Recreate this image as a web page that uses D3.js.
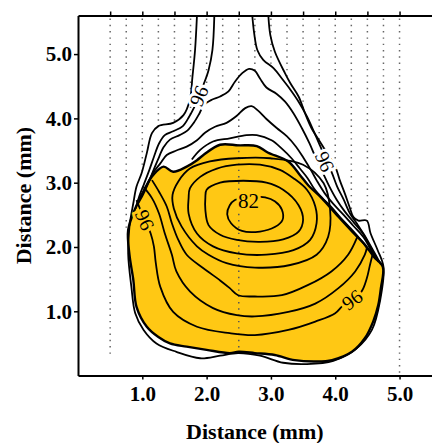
<!DOCTYPE html>
<html>
<head>
<meta charset="utf-8">
<script src="https://cdn.jsdelivr.net/npm/d3@7"></script>
<style>
body { margin: 0; background: #fff; }
text { font-family: "Liberation Serif", "Times New Roman", serif; }
</style>
</head>
<body>
<div id="chart"></div>
<script>
// axis ticks (mm)
var xTicks = [1, 2, 3, 4, 5]
var yTicks = [1, 2, 3, 4, 5]
var topTicks = [0.5, 1, 1.5, 2, 2.5, 3, 3.5, 4, 4.5, 5]

// dotted scan lines: x position and lowest visible y (mm)
var scanX = [0.5, 0.75, 1, 1.25, 1.5, 1.75, 2, 2.25, 2.5, 2.75, 3, 3.25, 3.5, 3.75, 4, 4.25, 4.5, 4.75, 5]
var scanEnd = [0.27, 2.28, 3.15, 3.88, 3.92, 4.0, 4.35, 4.37, 0.35, 4.74, 4.85, 4.62, 4.12, 3.66, 3.22, 2.52, 2.41, 1.75, 0]

// filled (yellow) region outline, [x, y] in mm
var yellowEdge = [[2.21,3.59],[2.50,3.58],[2.78,3.57],[2.95,3.47],[3.27,3.33],[3.45,3.12],[3.58,2.96],[3.79,2.76],[4.05,2.47],[4.31,2.19],[4.45,2.05],[4.60,1.85],[4.74,1.69],[4.71,1.36],[4.67,1.10],[4.59,0.84],[4.46,0.58],[4.26,0.37],[3.95,0.24],[3.69,0.22],[3.37,0.24],[3.06,0.32],[2.75,0.35],[2.50,0.37],[2.36,0.35],[2.00,0.40],[1.69,0.45],[1.43,0.50],[1.25,0.60],[1.07,0.76],[0.91,1.07],[0.86,1.49],[0.80,1.88],[0.78,2.26],[0.89,2.60],[1.04,2.91],[1.17,3.12],[1.33,3.25],[1.48,3.17],[1.69,3.25],[1.85,3.35],[1.95,3.43]]

// closed contours inside the yellow region
var ring82 = [[2.67,2.78],[2.91,2.77],[3.06,2.71],[3.17,2.58],[3.18,2.42],[3.06,2.31],[2.83,2.24],[2.55,2.25],[2.38,2.37],[2.32,2.51],[2.36,2.65],[2.44,2.73]]
var ring84 = [[2.00,2.89],[2.21,3.00],[2.57,3.03],[2.93,3.00],[3.19,2.89],[3.43,2.65],[3.50,2.42],[3.43,2.24],[3.19,2.12],[2.83,2.08],[2.47,2.11],[2.21,2.19],[2.03,2.34],[1.98,2.58],[1.98,2.76]]
var ring86 = [[1.74,2.91],[1.90,3.09],[2.16,3.22],[2.47,3.28],[2.83,3.28],[3.14,3.20],[3.35,3.07],[3.56,2.89],[3.69,2.63],[3.71,2.37],[3.61,2.11],[3.35,1.95],[2.93,1.88],[2.47,1.90],[2.10,2.01],[1.85,2.21],[1.72,2.52],[1.72,2.76]]
var ring88 = [[1.56,3.02],[1.74,3.22],[2.05,3.33],[2.47,3.38],[2.99,3.38],[3.50,3.28],[3.82,2.99],[3.92,2.58],[3.89,2.16],[3.71,1.88],[3.30,1.72],[2.75,1.68],[2.31,1.75],[2.03,1.88],[1.85,2.01],[1.61,2.32],[1.49,2.60],[1.47,2.81]]

// open contours inside the yellow region (edge to edge)
var line90 = [[1.15,3.04],[1.26,2.86],[1.38,2.63],[1.46,2.37],[1.56,2.11],[1.69,1.88],[1.95,1.67],[2.21,1.48],[2.36,1.36],[2.49,1.25],[2.75,1.23],[3.17,1.25],[3.58,1.41],[3.94,1.62],[4.20,1.88],[4.34,2.15]]
var line93 = [[1.02,2.93],[1.15,2.76],[1.26,2.52],[1.35,2.21],[1.46,1.88],[1.53,1.62],[1.74,1.31],[2.10,1.05],[2.47,0.94],[2.75,0.92],[3.27,0.99],[3.69,1.12],[4.05,1.36],[4.31,1.62],[4.46,1.88],[4.49,1.98]]
var line96 = [[0.91,2.73],[0.97,2.58],[1.04,2.42],[1.13,2.21],[1.18,2.01],[1.21,1.75],[1.28,1.38],[1.48,0.99],[1.85,0.76],[2.36,0.66],[2.75,0.63],[3.27,0.71],[3.69,0.84],[4.00,0.97],[4.13,1.10],[4.26,1.18],[4.41,1.31],[4.49,1.51],[4.54,1.72],[4.58,1.88]]

// contours outside the yellow region
var outerA = [[1.85,5.6],[1.82,5.06],[1.78,4.65],[1.74,4.29],[1.64,4.05],[1.48,3.93],[1.25,3.88],[1.15,3.77],[1.07,3.46],[0.99,3.15],[0.91,2.94],[0.86,2.68],[0.80,2.32],[0.78,1.90],[0.83,1.38],[0.89,0.97],[1.02,0.71],[1.22,0.50],[1.53,0.37],[1.90,0.27],[2.21,0.31],[2.49,0.35],[2.83,0.31],[3.19,0.20],[3.56,0.18],[3.97,0.23],[4.33,0.42],[4.57,0.71],[4.70,1.18],[4.75,1.69],[4.66,1.95],[4.55,2.21],[4.49,2.41],[4.36,2.41],[4.28,2.47],[4.22,2.63],[4.15,2.83],[4.07,3.04],[4.00,3.25],[3.89,3.43],[3.76,3.64],[3.63,3.85],[3.53,4.08],[3.43,4.34],[3.30,4.55],[3.22,4.70],[3.06,5.04],[2.99,5.30],[2.96,5.6]]
var outerBLeft = [[2.12,5.6],[2.09,5.06],[2.03,4.75],[1.95,4.52],[1.88,4.34],[1.81,4.18],[1.73,4.03],[1.63,3.88],[1.48,3.80],[1.35,3.74],[1.26,3.61],[1.18,3.40],[1.11,3.20],[1.03,2.99],[0.95,2.78],[0.90,2.60]]
var outerBRight = [[2.71,5.6],[2.74,5.32],[2.79,5.06],[2.88,4.91],[3.04,4.78],[3.17,4.62],[3.30,4.45],[3.43,4.26],[3.56,4.03],[3.67,3.79],[3.77,3.56],[3.86,3.35],[3.95,3.15],[4.03,2.94],[4.13,2.74],[4.23,2.52],[4.34,2.36],[4.45,2.19],[4.57,1.98],[4.71,1.73]]
var outerC = [[0.92,2.65],[1.01,2.81],[1.08,2.96],[1.16,3.16],[1.24,3.35],[1.33,3.55],[1.43,3.67],[1.58,3.74],[1.70,3.81],[1.80,3.93],[1.89,4.08],[1.96,4.21],[2.08,4.29],[2.21,4.34],[2.34,4.42],[2.44,4.57],[2.55,4.70],[2.66,4.77],[2.75,4.74],[2.83,4.62],[2.93,4.48],[3.09,4.38],[3.22,4.26],[3.35,4.08],[3.48,3.85],[3.60,3.61],[3.70,3.38],[3.81,3.15],[3.91,2.94],[4.02,2.74],[4.15,2.55],[4.29,2.38],[4.43,2.21],[4.53,2.03],[4.67,1.77]]
var outerD = [[0.93,2.71],[1.02,2.86],[1.10,3.03],[1.18,3.17],[1.28,3.30],[1.38,3.43],[1.53,3.50],[1.69,3.56],[1.85,3.66],[1.98,3.78],[2.13,3.87],[2.31,3.93],[2.47,4.04],[2.60,4.16],[2.70,4.19],[2.80,4.12],[2.93,3.99],[3.09,3.85],[3.25,3.72],[3.39,3.56],[3.51,3.38],[3.62,3.20],[3.72,3.02],[3.84,2.83],[3.97,2.67],[4.13,2.50],[4.28,2.33],[4.44,2.15],[4.62,1.82]]
var outerE = [[1.77,3.36],[1.90,3.51],[2.10,3.64],[2.36,3.69],[2.62,3.74],[2.78,3.74],[3.01,3.66],[3.17,3.53],[3.32,3.38],[3.45,3.22],[3.57,3.07],[3.67,2.91],[3.79,2.77],[3.93,2.63],[4.07,2.47],[4.22,2.31],[4.38,2.13],[4.52,1.95]]

// contour labels: text, position (mm), line they sit on
var labelText = ['82', '96', '96', '96', '96']
var labelX = [2.65, 1.04, 4.26, 1.88, 3.84]
var labelY = [2.72, 2.42, 1.18, 4.35, 3.33]
var labelLine = [null, line96, line96, outerBLeft, outerBRight]

var width = 432,
    height = 443,
    yellow = '#FFC814'

var svg = d3.select('#chart')
    .append('svg')
    .attr('width', width)
    .attr('height', height)

var x = d3.scaleLinear().domain([0, 5.5]).range([78, 431.7])
var y = d3.scaleLinear().domain([0, 5.6]).range([375.6, 15.5])

var openLine = d3.line()
    .x(d => x(d[0]))
    .y(d => y(d[1]))
    .curve(d3.curveCatmullRom.alpha(0.5))

var closedLine = d3.line()
    .x(d => x(d[0]))
    .y(d => y(d[1]))
    .curve(d3.curveCatmullRomClosed.alpha(0.5))

// dotted scan lines (2.5 mm one drawn later on top of the fill)
svg.append('g')
    .selectAll('line')
    .data(scanX.filter(d => d != 2.5))
    .enter().append('line')
    .attr('x1', d => x(d))
    .attr('x2', d => x(d))
    .attr('y1', y(5.6) + 3)
    .attr('y2', d => y(scanEnd[scanX.indexOf(d)]))
    .attr('stroke', '#666')
    .attr('stroke-width', 1.5)
    .attr('stroke-dasharray', '1.4,4.9')

// yellow region
svg.append('path')
    .attr('d', closedLine(yellowEdge))
    .attr('fill', yellow)

svg.append('line')
    .attr('x1', x(2.5))
    .attr('x2', x(2.5))
    .attr('y1', y(5.6) + 3)
    .attr('y2', y(scanEnd[scanX.indexOf(2.5)]))
    .attr('stroke', '#555')
    .attr('stroke-width', 1.5)
    .attr('stroke-dasharray', '1.4,4.9')

// contour lines
var contours = svg.append('g')
    .attr('fill', 'none')
    .attr('stroke', '#000')
    .attr('stroke-linejoin', 'round')

;[ring82, ring84, ring86, ring88].forEach(function (r) {
    contours.append('path').attr('d', closedLine(r)).attr('stroke-width', 1.8)
})
;[line90, line93, line96, outerA, outerBLeft, outerBRight, outerC, outerD, outerE].forEach(function (l) {
    contours.append('path').attr('d', openLine(l)).attr('stroke-width', 1.8)
})
contours.append('path')
    .attr('d', closedLine(yellowEdge))
    .attr('stroke-width', 2.4)

// angle of a polyline near a label, in screen space, kept readable
function labelAngle(pts, lx, ly) {
    if (!pts) return 0
    var best = 0, bestD = Infinity
    pts.forEach(function (p, i) {
        var dd = (p[0] - lx) * (p[0] - lx) + (p[1] - ly) * (p[1] - ly)
        if (dd < bestD) { bestD = dd; best = i }
    })
    var a = pts[Math.max(best - 1, 0)], b = pts[Math.min(best + 1, pts.length - 1)]
    var ang = Math.atan2(y(b[1]) - y(a[1]), x(b[0]) - x(a[0])) * 180 / Math.PI
    if (ang > 90) ang -= 180
    if (ang < -90) ang += 180
    return ang
}

svg.append('g')
    .selectAll('text')
    .data(labelText)
    .enter().append('text')
    .attr('transform', (d, i) => `translate(${x(labelX[i])},${y(labelY[i])}) rotate(${labelAngle(labelLine[i], labelX[i], labelY[i])})`)
    .attr('text-anchor', 'middle')
    .attr('dy', '0.35em')
    .style('font-size', (d, i) => i == 0 ? '21px' : '20px')
    .style('paint-order', 'stroke')
    .attr('stroke', (d, i) => i < 3 ? yellow : '#fff')
    .attr('stroke-width', 6)
    .attr('fill', '#000')
    .text(d => d)

// axes
var xAxis = svg.append('g')
    .attr('transform', `translate(0,${y(0)})`)
    .call(d3.axisBottom(x).tickValues(xTicks).tickSize(4).tickSizeOuter(0).tickFormat(d3.format('.1f')))
xAxis.selectAll('text').attr('y', 25).attr('dy', 0)

var yAxis = svg.append('g')
    .attr('transform', `translate(${x(0)},0)`)
    .call(d3.axisLeft(y).tickValues(yTicks).tickSize(4).tickSizeOuter(0).tickFormat(d3.format('.1f')))
yAxis.selectAll('text').attr('x', -6)

var topAxis = svg.append('g')
    .attr('transform', `translate(0,${y(5.6)})`)
    .call(d3.axisTop(x).tickValues(topTicks).tickSize(4).tickSizeOuter(0).tickFormat(''))

;[xAxis, yAxis, topAxis].forEach(function (g) {
    g.select('.domain').attr('stroke', '#000').attr('stroke-width', 2)
    g.selectAll('.tick line').attr('stroke', '#000').attr('stroke-width', 1.5)
    g.selectAll('text')
        .style('font-family', '"Liberation Serif", serif')
        .style('font-size', '21px')
        .style('font-weight', 'bold')
        .attr('fill', '#000')
})

svg.append('text')
    .attr('x', (x(0) + x(5.5)) / 2)
    .attr('y', 439)
    .attr('text-anchor', 'middle')
    .style('font-size', '22px')
    .style('font-weight', 'bold')
    .text('Distance (mm)')

svg.append('text')
    .attr('transform', `translate(31,${(y(0) + y(5.6)) / 2}) rotate(-90)`)
    .attr('text-anchor', 'middle')
    .style('font-size', '22px')
    .style('font-weight', 'bold')
    .text('Distance (mm)')
</script>
</body>
</html>
